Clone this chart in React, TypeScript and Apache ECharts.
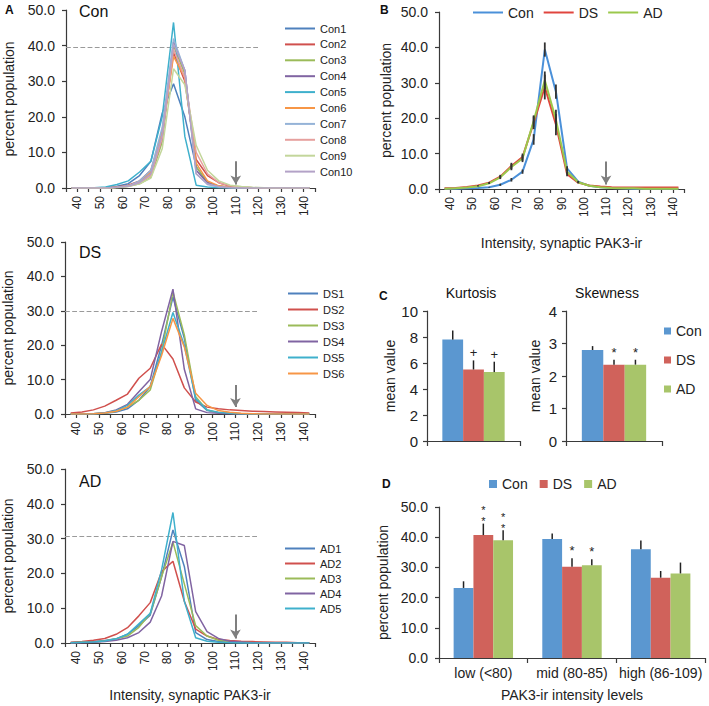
import React, { useEffect, useRef } from "react";
import * as echarts from "echarts";

const FONT = "'Liberation Sans', Arial, Helvetica, sans-serif";
const TEXT = "#222";
const AXIS = "#3a3a3a";

// ---------- data ----------
const binCenters = [37.5, 42.5, 47.5, 52.5, 57.5, 62.5, 67.5, 72.5, 77.5, 82.5, 87.5, 92.5, 97.5, 102.5, 107.5, 112.5, 117.5, 122.5, 127.5, 132.5, 137.5, 142.5];
const xTickLabels = [40, 50, 60, 70, 80, 90, 100, 110, 120, 130, 140];

const conNames = ["Con1", "Con2", "Con3", "Con4", "Con5", "Con6", "Con7", "Con8", "Con9", "Con10"];
const con1 = [0, 0, 0, 0.1, 0.5, 1.2, 3.5, 7.5, 21, 29.3, 20, 6, 1.5, 0.5, 0.2, 0.1, 0, 0, 0, 0, 0, 0];
const con2 = [0, 0, 0, 0, 0.3, 0.8, 2, 5, 15, 38, 30, 8, 3.5, 1.5, 0.5, 0.3, 0.1, 0, 0, 0, 0, 0];
const con3 = [0, 0, 0, 0, 0.2, 0.5, 1.2, 3, 13, 40, 32, 6, 1.5, 0.5, 0.2, 0.1, 0, 0, 0, 0, 0, 0];
const con4 = [0, 0, 0, 0, 0.2, 0.6, 1.5, 4, 14, 41, 33, 5, 1.5, 0.5, 0.2, 0.1, 0, 0, 0, 0, 0, 0];
const con5 = [0, 0, 0.1, 0.3, 1, 2, 4.5, 7.5, 20, 46.5, 14.5, 0.8, 0.3, 0.1, 0, 0, 0, 0, 0, 0, 0, 0];
const con6 = [0, 0, 0, 0, 0.2, 0.6, 1.8, 4.5, 16, 37, 31, 7, 2, 0.6, 0.2, 0.1, 0, 0, 0, 0, 0, 0];
const con7 = [0, 0, 0, 0, 0.2, 0.6, 2, 5, 17, 42, 33, 4, 1, 0.3, 0.1, 0, 0, 0, 0, 0, 0, 0];
const con8 = [0, 0, 0, 0, 0.2, 0.5, 1.5, 3.5, 14, 39, 31, 10, 4, 1.5, 0.6, 0.3, 0.1, 0, 0, 0, 0, 0];
const con9 = [0, 0, 0, 0, 0.1, 0.4, 1.2, 2.8, 11, 33.5, 29, 12, 5, 2, 0.8, 0.4, 0.2, 0.1, 0, 0, 0, 0];
const con10 = [0, 0, 0, 0, 0.2, 0.5, 1.5, 4, 15, 40.5, 33, 4, 1.2, 0.4, 0.1, 0, 0, 0, 0, 0, 0, 0];

const dsNames = ["DS1", "DS2", "DS3", "DS4", "DS5", "DS6"];
const ds1 = [0, 0, 0, 0.2, 0.6, 1.5, 4, 8, 20, 34, 22, 4, 1, 0.4, 0.2, 0.1, 0, 0, 0, 0, 0, 0];
const ds2 = [0.3, 0.6, 1.2, 2.3, 4, 5.8, 10.4, 13.3, 20.3, 16, 7.6, 3.5, 2, 1.5, 1.2, 1, 0.8, 0.7, 0.6, 0.5, 0.4, 0.3];
const ds3 = [0, 0, 0.1, 0.3, 0.8, 2, 4, 7, 18, 35.5, 23, 5, 1.2, 0.4, 0.2, 0.1, 0, 0, 0, 0, 0, 0];
const ds4 = [0, 0, 0.1, 0.4, 1.2, 2.8, 6.5, 10, 24, 36.3, 13, 1.5, 0.4, 0.2, 0.1, 0, 0, 0, 0, 0, 0, 0];
const ds5 = [0, 0, 0.1, 0.3, 1, 2.5, 5.5, 8, 18, 29.5, 20, 4.5, 1.2, 0.5, 0.2, 0.1, 0, 0, 0, 0, 0, 0];
const ds6 = [0, 0, 0.1, 0.3, 0.8, 2, 5, 8, 17, 27.8, 19.5, 6, 2.5, 1, 0.5, 0.2, 0.1, 0, 0, 0, 0, 0];

const adNames = ["AD1", "AD2", "AD3", "AD4", "AD5"];
const ad1 = [0.1, 0.2, 0.4, 0.7, 1.2, 2.5, 5, 8, 19, 32.5, 22, 3, 1, 0.4, 0.2, 0.1, 0, 0, 0, 0, 0, 0];
const ad2 = [0.2, 0.4, 0.8, 1.3, 2.5, 4.4, 7.8, 11.6, 20.5, 23.5, 12, 4, 2, 1, 0.7, 0.5, 0.4, 0.3, 0.2, 0.2, 0.1, 0.1];
const ad3 = [0.1, 0.2, 0.3, 0.6, 1.2, 2, 4.5, 8.5, 19, 29, 17, 5, 2, 0.8, 0.4, 0.2, 0.1, 0, 0, 0, 0, 0];
const ad4 = [0, 0.1, 0.2, 0.4, 0.8, 1.5, 3, 6, 13.5, 29.2, 28, 9, 3.3, 1.3, 0.5, 0.3, 0.1, 0, 0, 0, 0, 0];
const ad5 = [0.1, 0.2, 0.3, 0.6, 1.2, 2.5, 5.5, 8.5, 21, 37.5, 12, 1.5, 0.5, 0.2, 0.1, 0, 0, 0, 0, 0, 0, 0];

// panel B: group means with SEM
const groupNames = ["Con", "DS", "AD"];
const bCon = [0.1, 0.1, 0.2, 0.3, 0.5, 1.2, 2.6, 4.9, 14, 39.4, 27.5, 5.8, 2.1, 0.9, 0.5, 0.3, 0.2, 0.1, 0.1, 0.1, 0.1, 0.1];
const bDS = [0.2, 0.3, 0.6, 1, 1.8, 3.5, 6.5, 9, 18.7, 28.8, 18.2, 4.2, 1.8, 1, 0.7, 0.5, 0.4, 0.4, 0.4, 0.4, 0.4, 0.4];
const bAD = [0.1, 0.2, 0.4, 0.8, 1.6, 3.3, 6.2, 8.6, 19.2, 30.7, 19.6, 4.9, 1.9, 0.9, 0.5, 0.3, 0.2, 0.2, 0.1, 0.1, 0.1, 0.1];
const bConErr = [0, 0, 0, 0, 0.1, 0.3, 0.5, 0.6, 1.5, 2, 2, 0.6, 0.2, 0, 0, 0, 0, 0, 0, 0, 0, 0];
const bDSErr = [0, 0, 0, 0.1, 0.2, 0.5, 0.9, 1, 1.8, 3.5, 3, 0.6, 0.2, 0, 0, 0, 0, 0, 0, 0, 0, 0];
const bADErr = [0, 0, 0, 0.1, 0.2, 0.5, 0.9, 1, 1.6, 2.5, 2.8, 0.6, 0.2, 0, 0, 0, 0, 0, 0, 0, 0, 0];

// reference lines (mean peak) and arrows at 110
const conRef = 39.5;
const dsRef = 30.0;
const adRef = 30.7;
const refLineEnd = 120;
const arrowX = 110;
const conArrow = [7.5, 1.0];
const dsArrow = [8.4, 2.0];
const adArrow = [8.2, 1.3];
const bArrow = [7.8, 1.3];

// panel C
const kurtMean = [7.8, 5.5, 5.3];
const kurtErr = [0.7, 0.7, 0.8];
const kurtSig = ["", "+", "+"];
const skewMean = [2.8, 2.35, 2.35];
const skewErr = [0.12, 0.15, 0.15];
const skewSig = ["", "*", "*"];

// panel D
const dCategories = ["low (<80)", "mid (80-85)", "high (86-109)"];
const dCon = [23.2, 39.4, 36.0];
const dConErr = [2.2, 1.8, 2.9];
const dDS = [40.7, 30.2, 26.6];
const dDSErr = [3.8, 2.8, 2.2];
const dAD = [39.0, 30.7, 28.0];
const dADErr = [3.3, 2.0, 3.6];
const dConSig = ["", "", ""];
const dDSSig = ["**", "*", ""];
const dADSig = ["**", "*", ""];

// ---------- styles ----------
const palette10 = ["#4F81BD", "#D0504D", "#9BBB59", "#8064A2", "#3FB0CC", "#F79646", "#95B3D7", "#E6A09E", "#C3D69B", "#B3A2C7"];
const groupLineColors = ["#4A90D9", "#E0453E", "#9BC84C"];
const barColors = ["#5B97D0", "#D0625B", "#A8C56A"];
const BAR_GAP = 0.33;

const pairs = (vals: number[]) => binCenters.map((x, i) => [x, vals[i]]);

function xValueAxis(gridIndex: number, name?: string, nameGap?: number) {
  return {
    type: "value",
    gridIndex,
    min: 35,
    max: 145,
    interval: 5,
    name: name || "",
    nameLocation: "middle",
    nameGap: nameGap || 0,
    nameTextStyle: { fontSize: 14, color: TEXT, fontFamily: FONT },
    axisLine: { show: true, lineStyle: { color: AXIS, width: 1.2 } },
    axisTick: { show: true, length: 4, lineStyle: { color: AXIS, width: 1.2 } },
    splitLine: { show: false },
    axisLabel: {
      rotate: 90,
      fontSize: 12,
      color: TEXT,
      fontFamily: FONT,
      margin: 8,
      formatter: (v: number) => (xTickLabels.indexOf(v) >= 0 ? String(v) : ""),
    },
  };
}

function yPercentAxis(gridIndex: number, nameGap: number) {
  return {
    type: "value",
    gridIndex,
    min: 0,
    max: 50,
    interval: 10,
    name: "percent population",
    nameLocation: "middle",
    nameGap,
    nameTextStyle: { fontSize: 14, color: TEXT, fontFamily: FONT },
    axisLine: { show: true, lineStyle: { color: AXIS, width: 1.2 } },
    axisTick: { show: true, length: 4, lineStyle: { color: AXIS, width: 1.2 } },
    splitLine: { show: false },
    axisLabel: { fontSize: 14, color: TEXT, fontFamily: FONT, margin: 11, formatter: (v: number) => v.toFixed(1) },
  };
}

function markLines(ref: number | null, arrow: number[]) {
  const data: any[] = [];
  if (ref !== null) {
    data.push([
      { coord: [35, ref], symbol: "none", lineStyle: { type: "dashed", color: "#9a9a9a", width: 1.2 } },
      { coord: [refLineEnd, ref], symbol: "none" },
    ]);
  }
  data.push([
    { coord: [arrowX, arrow[0]], symbol: "none", lineStyle: { type: "solid", color: "#7f7f7f", width: 2 } },
    { coord: [arrowX, arrow[1]], symbol: "arrow", symbolSize: [8, 9] },
  ]);
  return { silent: true, animation: false, label: { show: false }, emphasis: { disabled: true }, data };
}

function panelSeries(names: string[], values: number[][], gridIndex: number, ref: number, arrow: number[]) {
  return names.map((n, i) => ({
    type: "line",
    name: n,
    xAxisIndex: gridIndex,
    yAxisIndex: gridIndex,
    data: pairs(values[i]),
    symbol: "none",
    lineStyle: { width: 1.5, color: palette10[i] },
    itemStyle: { color: palette10[i] },
    z: 2 + i,
    markLine: i === 0 ? markLines(ref, arrow) : undefined,
  }));
}

function panelLegend(names: string[], left: number, top: number, gap: number) {
  return {
    data: names,
    orient: "vertical",
    left,
    top,
    padding: 0,
    icon: "rect",
    itemWidth: 30,
    itemHeight: 2,
    itemGap: gap,
    textStyle: { fontSize: 11, color: TEXT, fontFamily: FONT },
    selectedMode: false,
  };
}

function bErrSeries(vals: number[], errs: number[]) {
  return {
    type: "custom",
    xAxisIndex: 3,
    yAxisIndex: 3,
    z: 20,
    silent: true,
    data: binCenters.map((x, i) => [x, vals[i] - errs[i], vals[i] + errs[i]]).filter((d) => d[2] - d[1] > 0),
    encode: { x: 0, y: [1, 2] },
    renderItem: (params: any, api: any) => {
      const a = api.coord([api.value(0), api.value(1)]);
      const b = api.coord([api.value(0), api.value(2)]);
      return { type: "line", shape: { x1: a[0], y1: a[1], x2: b[0], y2: b[1] }, style: { stroke: "#333", lineWidth: 1.8 } };
    },
  };
}

function textEl(text: string, x: number, y: number, size: number, bold = false, align = "left") {
  return {
    type: "text",
    x,
    y,
    silent: true,
    style: { text, fontSize: size, fontWeight: bold ? "bold" : "normal", fontFamily: FONT, fill: "#111", align, verticalAlign: "middle" },
  };
}

function buildOption1() {
  const series: any[] = [
    ...panelSeries(conNames, [con1, con2, con3, con4, con5, con6, con7, con8, con9, con10], 0, conRef, conArrow),
    ...panelSeries(dsNames, [ds1, ds2, ds3, ds4, ds5, ds6], 1, dsRef, dsArrow),
    ...panelSeries(adNames, [ad1, ad2, ad3, ad4, ad5], 2, adRef, adArrow),
  ];
  [bCon, bDS, bAD].forEach((vals, i) => {
    series.push({
      type: "line",
      name: groupNames[i],
      xAxisIndex: 3,
      yAxisIndex: 3,
      data: pairs(vals),
      symbol: "none",
      lineStyle: { width: 2, color: groupLineColors[i] },
      itemStyle: { color: groupLineColors[i] },
      z: 5 + i,
      markLine: i === 0 ? markLines(null, bArrow) : undefined,
    });
  });
  series.push(bErrSeries(bCon, bConErr), bErrSeries(bDS, bDSErr), bErrSeries(bAD, bADErr));

  return {
    animation: false,
    textStyle: { fontFamily: FONT },
    grid: [
      { left: 66, top: 10, width: 249, height: 178 },
      { left: 65, top: 242, width: 250, height: 172 },
      { left: 65, top: 469, width: 250, height: 174 },
      { left: 439, top: 12, width: 245, height: 177 },
    ],
    xAxis: [
      xValueAxis(0),
      xValueAxis(1),
      xValueAxis(2, "Intensity, synaptic PAK3-ir", 45),
      xValueAxis(3, "Intensity, synaptic PAK3-ir", 47),
    ],
    yAxis: [yPercentAxis(0, 50), yPercentAxis(1, 50), yPercentAxis(2, 50), yPercentAxis(3, 46)],
    legend: [
      panelLegend(conNames, 285, 23, 4.9),
      panelLegend(dsNames, 288, 288, 5),
      panelLegend(adNames, 285, 543, 4),
      {
        data: groupNames,
        orient: "horizontal",
        left: 473,
        top: 5.5,
        padding: 0,
        icon: "rect",
        itemWidth: 30,
        itemHeight: 2,
        itemGap: 10,
        textStyle: { fontSize: 14, color: TEXT, fontFamily: FONT },
        selectedMode: false,
      },
    ],
    graphic: [
      textEl("A", 5, 9.5, 12, true),
      textEl("B", 380, 9.5, 12, true),
      textEl("Con", 79, 11, 16),
      textEl("DS", 79, 252, 16),
      textEl("AD", 79, 481, 16),
    ],
    series,
  };
}

function errSeries2(grid: number, k: number, means: number[], errs: number[], sigs: string[]) {
  return {
    type: "custom",
    xAxisIndex: grid,
    yAxisIndex: grid,
    z: 20,
    silent: true,
    data: means.map((m, i) => [i, m, errs[i]]),
    encode: { x: 0, y: 1 },
    renderItem: (params: any, api: any) => {
      const i = api.value(0);
      const m = api.value(1);
      const e = api.value(2);
      const base = api.coord([i, m]);
      const top = api.coord([i, m + e]);
      const band = api.size([1, 0])[0];
      const bw = (band * (1 - BAR_GAP)) / 3;
      const x = base[0] + (k - 1) * bw;
      const sig = sigs[params.dataIndex] || "";
      const children: any[] = [
        { type: "line", shape: { x1: x, y1: base[1], x2: x, y2: top[1] }, style: { stroke: "#222", lineWidth: 1.5 } },
      ];
      const marks = sig.split("");
      const stacked = marks.length > 1;
      marks.forEach((ch, j) => {
        const fromBottom = marks.length - 1 - j;
        children.push({
          type: "text",
          x,
          y: top[1] + (stacked ? 3 : -1) - fromBottom * 11,
          style: {
            text: ch,
            align: "center",
            verticalAlign: "bottom",
            fontSize: stacked ? 11 : 13,
            fill: "#222",
            fontFamily: FONT,
          },
        });
      });
      return { type: "group", children };
    },
  };
}

function catAxis(gridIndex: number, data: string[], showLabel: boolean, name?: string) {
  return {
    type: "category",
    gridIndex,
    data,
    name: name || "",
    nameLocation: "middle",
    nameGap: 30,
    nameTextStyle: { fontSize: 14, color: TEXT, fontFamily: FONT },
    axisLine: { show: true, lineStyle: { color: AXIS, width: 1.2 } },
    axisTick: { show: true, alignWithLabel: false, length: 5, lineStyle: { color: AXIS, width: 1.2 } },
    axisLabel: { show: showLabel, interval: 0, fontSize: 14, color: TEXT, fontFamily: FONT, margin: 8 },
    splitLine: { show: false },
  };
}

function meanAxis(gridIndex: number, max: number, interval: number, nameGap: number) {
  return {
    type: "value",
    gridIndex,
    min: 0,
    max,
    interval,
    name: "mean value",
    nameLocation: "middle",
    nameGap,
    nameTextStyle: { fontSize: 14, color: TEXT, fontFamily: FONT },
    axisLine: { show: true, lineStyle: { color: AXIS, width: 1.2 } },
    axisTick: { show: true, length: 4, lineStyle: { color: AXIS, width: 1.2 } },
    splitLine: { show: false },
    axisLabel: { fontSize: 15, color: TEXT, fontFamily: FONT, margin: 9 },
  };
}

function barSeries(grid: number, k: number, values: number[]) {
  return {
    type: "bar",
    name: groupNames[k],
    xAxisIndex: grid,
    yAxisIndex: grid,
    data: values,
    barGap: "0%",
    barCategoryGap: BAR_GAP * 100 + "%",
    itemStyle: { color: barColors[k] },
    z: 2,
  };
}

function buildOption2() {
  const series: any[] = [];
  // C: kurtosis (grid 0) and skewness (grid 1); one category each
  for (let k = 0; k < 3; k++) series.push(barSeries(0, k, [kurtMean[k]]));
  for (let k = 0; k < 3; k++) series.push(barSeries(1, k, [skewMean[k]]));
  for (let k = 0; k < 3; k++) {
    series.push(errSeries2(0, k, [kurtMean[k]], [kurtErr[k]], [kurtSig[k]]));
    series.push(errSeries2(1, k, [skewMean[k]], [skewErr[k]], [skewSig[k]]));
  }
  // D
  const dMeans = [dCon, dDS, dAD];
  const dErrs = [dConErr, dDSErr, dADErr];
  const dSigs = [dConSig, dDSSig, dADSig];
  for (let k = 0; k < 3; k++) series.push(barSeries(2, k, dMeans[k]));
  for (let k = 0; k < 3; k++) series.push(errSeries2(2, k, dMeans[k], dErrs[k], dSigs[k]));

  return {
    animation: false,
    textStyle: { fontFamily: FONT },
    grid: [
      { left: 427, top: 311, width: 93, height: 130 },
      { left: 566, top: 311, width: 96, height: 130 },
      { left: 439, top: 507, width: 266, height: 151 },
    ],
    xAxis: [catAxis(0, [""], false), catAxis(1, [""], false), catAxis(2, dCategories, true, "PAK3-ir intensity levels")],
    yAxis: [
      meanAxis(0, 10, 2, 30),
      meanAxis(1, 4, 1, 24),
      {
        type: "value",
        gridIndex: 2,
        min: 0,
        max: 50,
        interval: 10,
        name: "percent population",
        nameLocation: "middle",
        nameGap: 49,
        nameTextStyle: { fontSize: 14, color: TEXT, fontFamily: FONT },
        axisLine: { show: true, lineStyle: { color: AXIS, width: 1.2 } },
        axisTick: { show: true, length: 4, lineStyle: { color: AXIS, width: 1.2 } },
        splitLine: { show: false },
        axisLabel: { fontSize: 14, color: TEXT, fontFamily: FONT, margin: 11, formatter: (v: number) => v.toFixed(1) },
      },
    ],
    legend: [
      {
        data: groupNames,
        orient: "vertical",
        left: 664,
        top: 324,
        padding: 0,
        icon: "rect",
        itemWidth: 7,
        itemHeight: 7,
        itemGap: 15,
        textStyle: { fontSize: 14, color: TEXT, fontFamily: FONT },
        selectedMode: false,
      },
      {
        data: groupNames,
        orient: "horizontal",
        left: 489,
        top: 477,
        padding: 0,
        icon: "rect",
        itemWidth: 8,
        itemHeight: 8,
        itemGap: 12,
        textStyle: { fontSize: 14, color: TEXT, fontFamily: FONT },
        selectedMode: false,
      },
    ],
    graphic: [
      textEl("C", 379, 296, 12, true),
      textEl("D", 382, 484, 12, true),
      textEl("Kurtosis", 471, 292.5, 14, false, "center"),
      textEl("Skewness", 607, 292.5, 14, false, "center"),
    ],
    series,
  };
}

function Chart({ build }: { build: () => any }) {
  const ref = useRef<HTMLDivElement | null>(null);
  useEffect(() => {
    if (!ref.current) return;
    const chart = echarts.init(ref.current, undefined, { renderer: "svg" });
    chart.setOption(build());
    return () => chart.dispose();
  }, [build]);
  return <div ref={ref} style={{ position: "absolute", left: 0, top: 0, width: 709, height: 706 }} />;
}

export default function App() {
  return (
    <div style={{ position: "absolute", left: 0, top: 0, width: 709, height: 706, background: "#fff", overflow: "hidden" }}>
      <Chart build={buildOption1} />
      <Chart build={buildOption2} />
    </div>
  );
}
